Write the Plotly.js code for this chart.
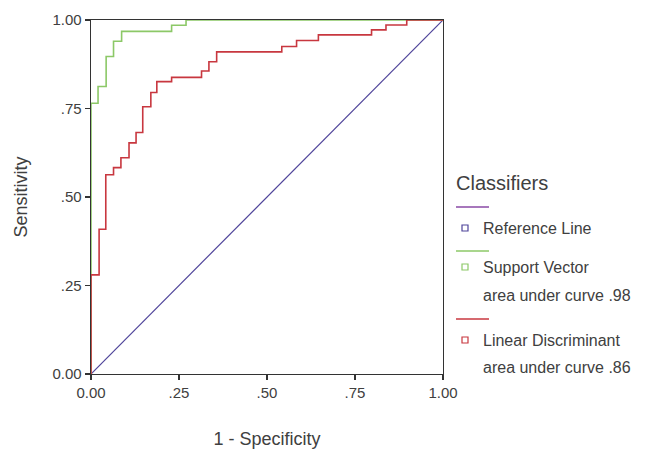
<!DOCTYPE html>
<html>
<head>
<meta charset="utf-8">
<script src="https://cdn.plot.ly/plotly-3.0.1.min.js"></script>
<style>html,body{margin:0;padding:0;background:#fff;}#chart{width:649px;height:452px;}</style>
</head>
<body>
<div id="chart"></div>
<script>
// ---- data ----
const refFpr = [0, 1];
const refTpr = [0, 1];
const svFpr = [0, 0, 0.020, 0.043, 0.064, 0.087, 0.229, 0.270, 1];
const svTpr = [0, 0.765, 0.812, 0.897, 0.940, 0.968, 0.985, 1, 1];
const ldFpr = [0, 0, 0.023, 0.042, 0.064, 0.085, 0.108, 0.128, 0.147, 0.170, 0.187, 0.229, 0.314, 0.335, 0.357, 0.542, 0.584, 0.646, 0.797, 0.838, 0.897, 1];
const ldTpr = [0, 0.280, 0.409, 0.563, 0.583, 0.611, 0.653, 0.682, 0.755, 0.795, 0.826, 0.838, 0.856, 0.882, 0.910, 0.925, 0.942, 0.958, 0.972, 0.986, 1, 1];
const tickVals = [0, 0.25, 0.5, 0.75, 1];
const tickText = ['0.00', '.25', '.50', '.75', '1.00'];
const seriesNames = ['Reference Line', 'Support Vector', 'Linear Discriminant'];
const aucLabels = ['', 'area under curve .98', 'area under curve .86'];
const seriesColors = ['#4f449a', '#8cc867', '#c8373f'];
const legendLineColors = ['#8a4aa6', '#8cc867', '#c8373f'];

// ---- layout helpers (pixel -> paper) ----
const L = 91, R = 443, T = 20, B = 374;
const px = x => (x - L) / (R - L);
const py = y => (B - y) / (B - T);

const traces = [
  {x: refFpr, y: refTpr, mode: 'lines', line: {color: seriesColors[0], width: 1.2}, name: seriesNames[0], hoverinfo: 'skip'},
  {x: svFpr, y: svTpr, mode: 'lines', line: {color: seriesColors[1], width: 1.6, shape: 'hv'}, name: seriesNames[1], hoverinfo: 'skip'},
  {x: ldFpr, y: ldTpr, mode: 'lines', line: {color: seriesColors[2], width: 1.6, shape: 'hv'}, name: seriesNames[2], hoverinfo: 'skip'}
];

const font = 'Liberation Sans, Arial, sans-serif';
const textColor = '#404040';

const shapes = [];
const annotations = [];
annotations.push({xref: 'paper', yref: 'paper', x: px(454), y: py(183), xanchor: 'left', yanchor: 'middle',
  text: 'Classifiers', showarrow: false, font: {family: font, size: 20, color: textColor}});
const lineY = [207, 251, 319];
const nameY = [228, 267, 340];
const aucY = [0, 295, 367];
for (let i = 0; i < 3; i++) {
  shapes.push({type: 'line', xref: 'paper', yref: 'paper', x0: px(456), x1: px(489), y0: py(lineY[i]), y1: py(lineY[i]),
    line: {color: legendLineColors[i], width: 1.3}});
  shapes.push({type: 'rect', xref: 'paper', yref: 'paper', x0: px(462), x1: px(468), y0: py(nameY[i] + 3), y1: py(nameY[i] - 3),
    line: {color: seriesColors[i], width: 1.2}, fillcolor: 'rgba(0,0,0,0)'});
  annotations.push({xref: 'paper', yref: 'paper', x: px(481), y: py(nameY[i]), xanchor: 'left', yanchor: 'middle',
    text: seriesNames[i], showarrow: false, font: {family: font, size: 16, color: textColor}});
  if (aucLabels[i]) {
    annotations.push({xref: 'paper', yref: 'paper', x: px(481), y: py(aucY[i]), xanchor: 'left', yanchor: 'middle',
      text: aucLabels[i], showarrow: false, font: {family: font, size: 16, color: textColor}});
  }
}

const axisCommon = {
  range: [0, 1], tickvals: tickVals, ticktext: tickText, ticks: 'outside', ticklen: 5, tickwidth: 1.2,
  tickcolor: '#333', showgrid: false, zeroline: false, showline: true, linecolor: '#333', linewidth: 1.3,
  mirror: true, tickfont: {family: font, size: 15, color: textColor}, fixedrange: true
};

const layout = {
  width: 649, height: 452,
  margin: {l: L, r: 649 - R, t: T, b: 452 - B},
  paper_bgcolor: '#fff', plot_bgcolor: '#fff',
  showlegend: false,
  xaxis: Object.assign({}, axisCommon, {title: {text: '1 - Specificity', font: {family: font, size: 18, color: textColor}, standoff: 32}}),
  yaxis: Object.assign({}, axisCommon, {title: {text: 'Sensitivity', font: {family: font, size: 18, color: textColor}, standoff: 20}}),
  shapes: shapes,
  annotations: annotations
};

Plotly.newPlot('chart', traces, layout, {displayModeBar: false, staticPlot: true});
</script>
</body>
</html>
